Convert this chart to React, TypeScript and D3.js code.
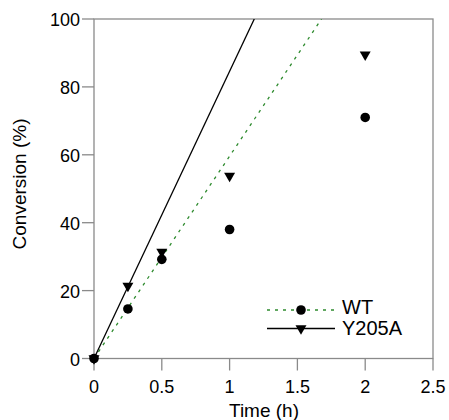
import React, { useEffect, useRef } from 'react';
import * as d3 from 'd3';

const times = [0, 0.25, 0.5, 1, 2];
const wtValues = [0, 14.6, 29.2, 38, 71];
const y205aValues = [0, 21.4, 31.4, 53.8, 89.5];
// slopes of the fitted lines (% per h)
const wtSlope = 59.6;
const y205aSlope = 84.6;
const xTicks = [0, 0.5, 1, 1.5, 2, 2.5];
const yTicks = [0, 20, 40, 60, 80, 100];

export default function App() {
  const ref = useRef<SVGSVGElement>(null);

  useEffect(() => {
    const svg = d3.select(ref.current);
    svg.selectAll('*').remove();
    const font = 'Liberation Sans, Arial, Helvetica, sans-serif';
    const axisColor = '#8a8a8a';

    const x = d3.scaleLinear().domain([0, 2.5]).range([94, 433]);
    const y = d3.scaleLinear().domain([0, 100]).range([358.5, 19]);

    // frame
    svg.append('rect')
      .attr('x', x(0)).attr('y', y(100))
      .attr('width', x(2.5) - x(0)).attr('height', y(0) - y(100))
      .attr('fill', 'none').attr('stroke', axisColor).attr('stroke-width', 1.3);

    // x ticks
    const gx = svg.append('g');
    xTicks.forEach(t => {
      gx.append('line')
        .attr('x1', x(t)).attr('x2', x(t))
        .attr('y1', y(0)).attr('y2', y(0) + 12)
        .attr('stroke', axisColor).attr('stroke-width', 1.3);
      gx.append('text')
        .attr('x', x(t)).attr('y', 393)
        .attr('text-anchor', 'middle')
        .attr('font-family', font).attr('font-size', 18)
        .text(String(t));
    });

    // y ticks
    const gy = svg.append('g');
    yTicks.forEach(t => {
      gy.append('line')
        .attr('x1', x(0) - 12).attr('x2', x(0))
        .attr('y1', y(t)).attr('y2', y(t))
        .attr('stroke', axisColor).attr('stroke-width', 1.3);
      gy.append('text')
        .attr('x', 80).attr('y', y(t) + 7)
        .attr('text-anchor', 'end')
        .attr('font-family', font).attr('font-size', 18)
        .text(String(t));
    });

    svg.append('text')
      .attr('x', 264).attr('y', 417)
      .attr('text-anchor', 'middle')
      .attr('font-family', font).attr('font-size', 19)
      .text('Time (h)');

    svg.append('text')
      .attr('transform', 'translate(26,184) rotate(-90)')
      .attr('text-anchor', 'middle')
      .attr('font-family', font).attr('font-size', 19)
      .text('Conversion (%)');

    // fitted lines
    const clip = svg.append('clipPath').attr('id', 'plotclip');
    clip.append('rect')
      .attr('x', x(0)).attr('y', y(100))
      .attr('width', x(2.5) - x(0)).attr('height', y(0) - y(100));

    const line = d3.line<[number, number]>().x(d => x(d[0])).y(d => y(d[1]));
    svg.append('path')
      .attr('d', line([[0, 0], [100 / wtSlope, 100]]))
      .attr('clip-path', 'url(#plotclip)')
      .attr('fill', 'none').attr('stroke', '#2e8b2e').attr('stroke-width', 1.3)
      .attr('stroke-dasharray', '3,5');
    svg.append('path')
      .attr('d', line([[0, 0], [100 / y205aSlope, 100]]))
      .attr('clip-path', 'url(#plotclip)')
      .attr('fill', 'none').attr('stroke', '#000').attr('stroke-width', 1.3);

    const tri = d3.symbol().type(d3.symbolTriangle).size(52);

    // Y205A triangles (pointing down)
    svg.append('g').selectAll('path')
      .data(times.map((t, i) => [t, y205aValues[i]]))
      .enter().append('path')
      .attr('d', tri)
      .attr('transform', d => `translate(${x(d[0])},${y(d[1])}) rotate(180)`)
      .attr('fill', '#000');

    // WT circles
    svg.append('g').selectAll('circle')
      .data(times.map((t, i) => [t, wtValues[i]]))
      .enter().append('circle')
      .attr('cx', d => x(d[0])).attr('cy', d => y(d[1]))
      .attr('r', 4.8).attr('fill', '#000');

    // legend
    const lg = svg.append('g');
    lg.append('line')
      .attr('x1', 267).attr('x2', 335).attr('y1', 310).attr('y2', 310)
      .attr('stroke', '#2e8b2e').attr('stroke-width', 1.3).attr('stroke-dasharray', '3,5');
    lg.append('circle').attr('cx', 301).attr('cy', 310).attr('r', 4.8).attr('fill', '#000');
    lg.append('text').attr('x', 342).attr('y', 314)
      .attr('font-family', font).attr('font-size', 20).text('WT');
    lg.append('line')
      .attr('x1', 267).attr('x2', 335).attr('y1', 328.5).attr('y2', 328.5)
      .attr('stroke', '#000').attr('stroke-width', 1.3);
    lg.append('path').attr('d', tri)
      .attr('transform', 'translate(301,328.5) rotate(180)').attr('fill', '#000');
    lg.append('text').attr('x', 342).attr('y', 334.5)
      .attr('font-family', font).attr('font-size', 20).text('Y205A');
  }, []);

  return (
    <div>
      <svg ref={ref} width={449} height={420} style={{ position: 'absolute', left: 0, top: 0 }}></svg>
    </div>
  );
}
